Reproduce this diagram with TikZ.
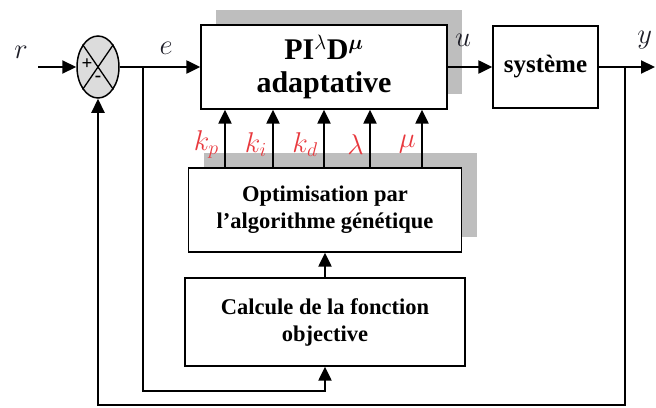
\documentclass[tikz,border=0pt]{standalone}
\usepackage{amsmath,amssymb}
\usepackage{xcolor}
\usepackage{fontspec}
\setmainfont{Liberation Serif}
\usetikzlibrary{calc, shapes.geometric, arrows.meta, shadows}

\definecolor{shadowgray}{HTML}{BEBEBE}
\definecolor{sumgray}{HTML}{DCDCDC}
\definecolor{paramred}{HTML}{E8383D}
\definecolor{labelblack}{HTML}{1E1E28}

\tikzset{
  block/.style = {draw, line width=1.3pt, fill=white, align=center, inner sep=0pt,
                  font=\bfseries\fontsize{22.5}{27}\selectfont},
  blockshadow/.style = {general shadow={fill=shadowgray, shadow xshift=15pt, shadow yshift=15pt}},
  sig/.style = {line width=2.2pt, -{Triangle[length=14pt, width=13pt]}},
  lbl/.style = {font=\fontsize{24}{28}\selectfont, scale=1.15, text=labelblack},
  param/.style = {lbl, text=paramred},
}

\begin{document}
\begin{tikzpicture}[x=1pt, y=-1pt]

  \useasboundingbox (0,0) rectangle (656,407);

  % Draw blocks
  \node[block, blockshadow, minimum width=246pt, minimum height=84pt,
        font=\bfseries\fontsize{30}{33}\selectfont] (pid) at (324,67)
        {PI$^{\lambda}$D$^{\boldsymbol{\mu}}$\\adaptative};
  \node[block, minimum width=105pt, minimum height=82pt,
        font=\bfseries\fontsize{25}{30}\selectfont] (sys) at (545.5,67) {système};
  \node[block, blockshadow, minimum width=273pt, minimum height=84pt] (opt) at (325,210)
        {Optimisation par\\l'algorithme génétique};
  \node[block, minimum width=280pt, minimum height=88pt] (cost) at (325,322)
        {Calcule de la fonction\\objective};

  % Summing junction
  \node[ellipse, draw, line width=1.5pt, fill=sumgray, minimum width=42pt,
        minimum height=62pt, inner sep=0pt] (sum) at (98,67) {};
  \draw[line width=1.3pt] (sum.north west) -- (sum.south east);
  \draw[line width=1.3pt] (sum.north east) -- (sum.south west);
  \node[font=\bfseries\fontsize{19}{19}\selectfont] (plus) at ($(sum.center)+(-11,-3)$) {+};
  \node[font=\bfseries\fontsize{19}{19}\selectfont] (minus) at ($(sum.center)+(0,12)$) {-};

  % Branch points
  \coordinate (rin) at (38,67);
  \coordinate (eb) at (143,67);
  \coordinate (ebot) at (143,391);
  \coordinate (yb) at (625,67);
  \coordinate (yout) at (655,67);
  \coordinate (ybot) at (625,405);

  % Signals
  \draw[sig] (rin) -- (sum.west);
  \draw[sig] (sum.east) -- (pid.west);
  \draw[sig] (pid.east) -- (sys.west);
  \draw[sig] (sys.east) -- (yout);
  \draw[sig] (yb) -- (ybot) -| (sum.south);
  \draw[sig] (eb) -- (ebot) -| (cost.south);
  \draw[sig] (cost.north) -- (opt.south);

  % Tuned parameters
  \foreach \dx/\name/\txt in {-99/kp/{k_p}, -51/ki/{k_i}, 0/kd/{k_d}, 46/lam/{\lambda}, 98/mu/{\mu}} {
    \coordinate (\name) at ([xshift=\dx pt]pid.south);
    \draw[sig] (\name |- opt.north) -- (\name) node[param, pos=0.4, left=1pt] {$\txt$};
  }

  % Label the signals
  \node[lbl] (rlab) at (21,52) {$r$};
  \node[lbl] (elab) at (166,48) {$e$};
  \node[lbl] (ulab) at (463,40) {$u$};
  \node[lbl, anchor=east] (ylab) at (656,40) {$y$};

\end{tikzpicture}
\end{document}
